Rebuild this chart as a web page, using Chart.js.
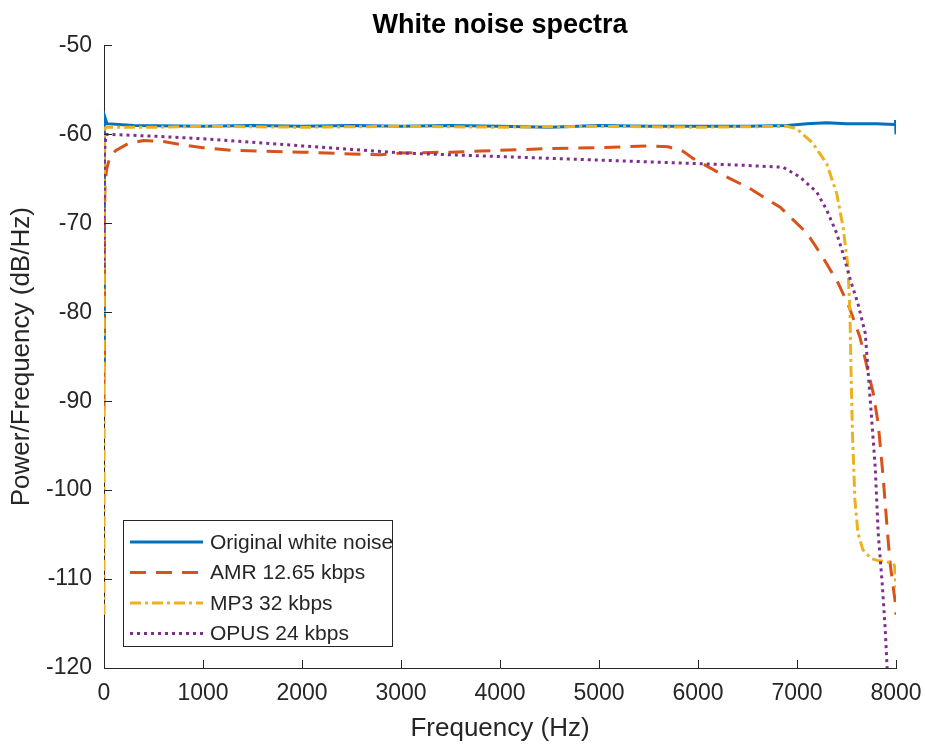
<!DOCTYPE html>
<html>
<head>
<meta charset="utf-8">
<script src="https://cdn.jsdelivr.net/npm/chart.js@4.4.1/dist/chart.umd.min.js"></script>
<style>
  body { margin: 0; background: #fff; }
  canvas { display: block; }
</style>
</head>
<body>
<canvas id="chart" width="925" height="745"></canvas>
<script>
// series (Hz / dB per Hz)
const seriesNames = ['Original white noise', 'AMR 12.65 kbps', 'MP3 32 kbps', 'OPUS 24 kbps'];

const origFreq = [0, 4, 30, 300, 1000, 1500, 2000, 2500, 3000, 3500, 4000, 4500, 5000, 5500, 6000, 6500, 6900, 7100, 7300, 7500, 7800, 7990, 7995, 8000];
const origDb   = [-86, -57.9, -58.8, -59.0, -59.1, -59.0, -59.1, -59.0, -59.1, -59.0, -59.1, -59.2, -59.0, -59.1, -59.1, -59.1, -59.0, -58.8, -58.7, -58.8, -58.8, -58.9, -58.4, -60.0];

const amrFreq = [0, 3, 10, 25, 60, 120, 250, 400, 600, 800, 1000, 1300, 1600, 2000, 2500, 2800, 3000, 3500, 4000, 4500, 5000, 5500, 5700, 5850, 5950, 6240, 6525, 6830, 7100, 7260, 7415, 7530, 7636, 7770, 7820, 7870, 7910, 7940, 7990, 8000];
const amrDb   = [-91, -70, -66, -64, -62.5, -61.8, -61.0, -60.7, -60.8, -61.2, -61.5, -61.8, -61.9, -62.0, -62.2, -62.3, -62.1, -62.0, -61.8, -61.6, -61.5, -61.3, -61.4, -61.9, -62.7, -64.5, -66.1, -68.2, -71.1, -73.8, -76.7, -79.5, -82.8, -89.1, -92.5, -98.5, -104.2, -108.2, -112.4, -114];

const mp3Freq = [0, 4, 20, 500, 1000, 2000, 3000, 4000, 5000, 6000, 6900, 7000, 7160, 7300, 7400, 7465, 7515, 7535, 7545, 7560, 7585, 7615, 7665, 7750, 7810, 7970, 7985, 8000];
const mp3Db   = [-114, -59.5, -59.2, -59.2, -59.1, -59.2, -59.1, -59.2, -59.1, -59.2, -59.1, -59.4, -61.0, -63.3, -66.6, -70.4, -74.9, -80.1, -86.2, -93.6, -101.1, -104.8, -106.7, -107.7, -107.9, -108.2, -108.5, -111];

const opusFreq = [0, 5, 20, 500, 1000, 1500, 2000, 2500, 3000, 3500, 4000, 4500, 5000, 5500, 6000, 6500, 6860, 7030, 7200, 7300, 7400, 7465, 7540, 7615, 7690, 7740, 7790, 7820, 7860, 7890, 7910, 7925];
const opusDb   = [-75, -62, -60.0, -60.2, -60.5, -60.9, -61.3, -61.7, -62.1, -62.3, -62.5, -62.7, -62.9, -63.1, -63.3, -63.5, -63.7, -64.8, -66.5, -68.5, -71.1, -73.4, -76.4, -79.0, -82.4, -89.9, -97.4, -104.8, -110.4, -115.4, -119.9, -124];

const xTicks = [0, 1000, 2000, 3000, 4000, 5000, 6000, 7000, 8000];
const yTicks = [-120, -110, -100, -90, -80, -70, -60, -50];

const axisColor = '#262626';
const fontFamily = '"Liberation Sans", Arial, Helvetica, sans-serif';

function pts(fs, vs) {
    return fs.map(function (f, i) { return { x: f, y: vs[i] }; });
}

// MATLAB style inward tick marks
const tickMarks = {
    id: 'tickMarks',
    afterDraw(chart) {
        const ctx = chart.ctx;
        const xs = chart.scales.x, ys = chart.scales.y;
        const a = chart.chartArea;
        ctx.save();
        ctx.strokeStyle = axisColor;
        ctx.lineWidth = 1;
        ctx.beginPath();
        yTicks.forEach(function (v) {
            const py = Math.round(ys.getPixelForValue(v)) + 0.5;
            ctx.moveTo(a.left, py);
            ctx.lineTo(a.left + 8, py);
        });
        xTicks.forEach(function (v) {
            const px = Math.round(xs.getPixelForValue(v)) + 0.5;
            ctx.moveTo(px, a.bottom);
            ctx.lineTo(px, a.bottom - 8);
        });
        ctx.stroke();
        ctx.restore();
    }
};

// boxed legend in the lower left of the plot
const boxLegend = {
    id: 'boxLegend',
    afterDraw(chart) {
        const ctx = chart.ctx;
        const a = chart.chartArea;
        const left = a.left + 19, top = a.bottom - 148, w = 269, h = 126;
        ctx.save();
        ctx.fillStyle = '#fff';
        ctx.fillRect(left, top, w, h);
        ctx.strokeStyle = axisColor;
        ctx.lineWidth = 1;
        ctx.strokeRect(left + 0.5, top + 0.5, w, h);
        ctx.font = '21px ' + fontFamily;
        ctx.textBaseline = 'middle';
        chart.data.datasets.forEach(function (ds, i) {
            const y = top + 22 + i * 30.5;
            ctx.strokeStyle = ds.borderColor;
            ctx.lineWidth = ds.borderWidth;
            ctx.setLineDash(ds.borderDash || []);
            ctx.beginPath();
            ctx.moveTo(left + 7, y);
            ctx.lineTo(left + 80, y);
            ctx.stroke();
            ctx.setLineDash([]);
            ctx.fillStyle = axisColor;
            ctx.fillText(ds.label, left + 87, y + 1);
        });
        ctx.restore();
    }
};

new Chart(document.getElementById('chart'), {
    type: 'line',
    data: {
        datasets: [
            { label: seriesNames[0], data: pts(origFreq, origDb), borderColor: '#0072BD', borderWidth: 3, order: 4 },
            { label: seriesNames[1], data: pts(amrFreq, amrDb), borderColor: '#D95319', borderWidth: 3, borderDash: [16, 10], order: 3 },
            { label: seriesNames[2], data: pts(mp3Freq, mp3Db), borderColor: '#EDB120', borderWidth: 3, borderDash: [11, 4, 3, 4], order: 2 },
            { label: seriesNames[3], data: pts(opusFreq, opusDb), borderColor: '#7E2F8E', borderWidth: 3, borderDash: [3, 4], order: 1 }
        ]
    },
    options: {
        responsive: false,
        animation: false,
        layout: { padding: { left: 0, right: 29, top: 0, bottom: 0 } },
        elements: { point: { radius: 0 }, line: { tension: 0, borderCapStyle: 'butt' } },
        plugins: {
            legend: { display: false },
            tooltip: { enabled: false },
            title: {
                display: true,
                text: 'White noise spectra',
                fullSize: false,
                color: '#000',
                font: { family: fontFamily, size: 27, weight: 'bold' },
                padding: { top: 9, bottom: 4 }
            }
        },
        scales: {
            x: {
                type: 'linear',
                min: 0, max: 8000,
                afterFit: function (s) { s.height = 77; s.paddingRight = 0; s.paddingLeft = 0; },
                afterBuildTicks: function (s) { s.ticks = xTicks.map(function (v) { return { value: v }; }); },
                grid: { display: false, drawTicks: false },
                border: { display: true, color: axisColor, width: 1 },
                ticks: {
                    color: axisColor, padding: 12, maxRotation: 0, autoSkip: false,
                    font: { family: fontFamily, size: 23 },
                    callback: function (v) { return String(v); }
                },
                title: {
                    display: true, text: 'Frequency (Hz)', color: axisColor,
                    font: { family: fontFamily, size: 26 },
                    padding: { top: 0, bottom: 1 }
                }
            },
            y: {
                type: 'linear',
                min: -120, max: -50,
                afterFit: function (s) { s.width = 104; },
                afterBuildTicks: function (s) { s.ticks = yTicks.map(function (v) { return { value: v }; }); },
                grid: { display: false, drawTicks: false },
                border: { display: true, color: axisColor, width: 1 },
                ticks: {
                    color: axisColor, padding: 12,
                    font: { family: fontFamily, size: 23 },
                    callback: function (v) { return String(v); }
                },
                title: {
                    display: true, text: 'Power/Frequency (dB/Hz)', color: axisColor,
                    font: { family: fontFamily, size: 26 },
                    padding: { top: 6, bottom: 0 }
                }
            }
        }
    },
    plugins: [tickMarks, boxLegend]
});
</script>
</body>
</html>
